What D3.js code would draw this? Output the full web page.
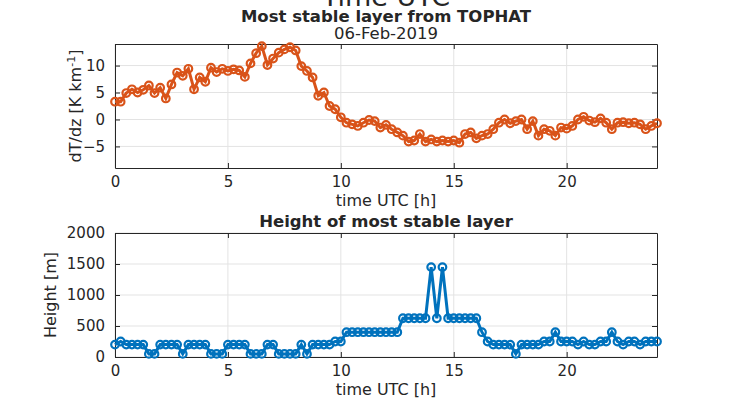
<!DOCTYPE html>
<html lang="en">
<head>
  <meta charset="utf-8" />
  <title>Most stable layer from TOPHAT</title>
  <script src="https://cdn.jsdelivr.net/npm/d3@7/dist/d3.min.js"></script>
  <style>
    body { margin: 0; background: #fff; }
    text { font-family: "DejaVu Sans", sans-serif; fill: #262626; }
  </style>
</head>
<body>
  <script>
    // time in hours, 15 min steps
    var hours = [0,0.25,0.5,0.75,1,1.25,1.5,1.75,2,2.25,2.5,2.75,3,3.25,3.5,3.75,4,4.25,4.5,4.75,
      5,5.25,5.5,5.75,6,6.25,6.5,6.75,7,7.25,7.5,7.75,8,8.25,8.5,8.75,9,9.25,9.5,9.75,
      10,10.25,10.5,10.75,11,11.25,11.5,11.75,12,12.25,12.5,12.75,13,13.25,13.5,13.75,14,14.25,14.5,14.75,
      15,15.25,15.5,15.75,16,16.25,16.5,16.75,17,17.25,17.5,17.75,18,18.25,18.5,18.75,19,19.25,19.5,19.75,
      20,20.25,20.5,20.75,21,21.25,21.5,21.75,22,22.25,22.5,22.75,23,23.25,23.5,23.75,24];

    var dTdz = [3.3,3.3,4.9,5.6,5.0,5.5,6.3,4.9,5.9,3.9,6.5,8.7,8.1,9.4,5.6,7.8,7.0,9.6,8.8,9.4,
      9.0,9.3,9.1,7.9,10.4,12.3,13.6,10.1,11.3,12.4,13.0,13.4,12.8,9.9,9.0,7.8,4.4,5.0,2.5,1.9,
      0.4,-0.6,-0.9,-1.2,-0.6,-0.1,-0.3,-1.5,-1.0,-1.8,-2.4,-3.0,-4.1,-3.9,-2.7,-4.1,-3.7,-4.1,-3.9,-4.1,
      -3.9,-4.3,-2.7,-2.4,-3.5,-3.0,-2.7,-1.8,-0.6,0.0,-0.7,-0.3,0.0,-1.8,-0.3,-3.0,-1.8,-2.1,-3.0,-1.5,
      -1.7,-1.2,0.0,0.5,-0.2,-0.5,0.2,-0.6,-1.8,-0.6,-0.5,-0.7,-0.6,-0.9,-1.8,-1.2,-0.7];

    var heightM = [200,250,200,200,200,200,50,50,200,200,200,200,50,200,200,200,200,50,50,50,
      200,200,200,200,50,50,50,200,200,50,50,50,50,200,50,200,200,200,200,250,
      250,400,400,400,400,400,400,400,400,400,400,625,625,625,625,625,1450,625,1450,625,
      625,625,625,625,625,400,250,200,200,200,200,50,200,200,200,200,250,250,400,250,
      250,250,200,250,200,200,250,250,400,250,200,250,250,200,250,250,250];

    var xTicks = [0, 5, 10, 15, 20];
    var topYTicks = [-5, 0, 5, 10];
    var botYTicks = [0, 500, 1000, 1500, 2000];

    var W = 730, H = 405;
    var svg = d3.select("body").append("svg").attr("width", W).attr("height", H);

    var x = d3.scaleLinear().domain([0, 24]).range([115, 657]);

    // super title, mostly outside the figure
    svg.append("text").attr("x", 386).attr("y", 6)
      .attr("text-anchor", "middle").style("font-size", "27px").text("Time UTC");

    function panel(top, bottom, yDomain, yTicks, vals, color, ylabX, ylab, titleLines) {
      var y = d3.scaleLinear().domain(yDomain).range([bottom, top]);
      var g = svg.append("g");

      // grid
      g.selectAll(".gx").data(xTicks).enter().append("line")
        .attr("x1", d => x(d)).attr("x2", d => x(d)).attr("y1", top).attr("y2", bottom)
        .attr("stroke", "#e3e3e3").attr("stroke-width", 1);
      g.selectAll(".gy").data(yTicks).enter().append("line")
        .attr("x1", x(0)).attr("x2", x(24)).attr("y1", d => y(d)).attr("y2", d => y(d))
        .attr("stroke", "#e3e3e3").attr("stroke-width", 1);

      // axes with inward ticks
      g.append("g").attr("transform", "translate(0," + bottom + ")")
        .call(d3.axisBottom(x).tickValues(xTicks).tickSizeInner(-5).tickSizeOuter(0).tickPadding(8));
      g.append("g").attr("transform", "translate(" + x(0) + ",0)")
        .call(d3.axisLeft(y).tickValues(yTicks).tickFormat(d3.format("d"))
          .tickSizeInner(-5).tickSizeOuter(0).tickPadding(10));
      g.append("g").attr("transform", "translate(0," + top + ")")
        .call(d3.axisTop(x).tickValues(xTicks).tickSizeInner(-5).tickSizeOuter(0).tickFormat(""));
      g.append("g").attr("transform", "translate(" + x(24) + ",0)")
        .call(d3.axisRight(y).tickValues(yTicks).tickSizeInner(-5).tickSizeOuter(0).tickFormat(""));
      g.selectAll(".domain, .tick line").attr("stroke", "#262626");
      g.selectAll(".tick text").style("font-size", "15px").attr("fill", "#262626")
        .style("font-family", "DejaVu Sans, sans-serif");

      // data line and markers
      var pts = hours.map((h, i) => [h, vals[i]]);
      g.append("path").datum(pts)
        .attr("d", d3.line().x(d => x(d[0])).y(d => y(d[1])))
        .attr("fill", "none").attr("stroke", color).attr("stroke-width", 3);
      g.selectAll(".m").data(pts).enter().append("circle")
        .attr("cx", d => x(d[0])).attr("cy", d => y(d[1])).attr("r", 3.8)
        .attr("fill", "none").attr("stroke", color).attr("stroke-width", 2.2);

      // labels
      g.append("text").attr("x", x(12)).attr("y", bottom + 38)
        .attr("text-anchor", "middle").style("font-size", "16px").text("time UTC [h]");
      var yl = g.append("text")
        .attr("transform", "translate(" + ylabX + "," + ((top + bottom) / 2) + ") rotate(-90)")
        .attr("text-anchor", "middle").style("font-size", "16px");
      ylab(yl);

      titleLines.forEach(function(t) {
        g.append("text").attr("x", x(12)).attr("y", t.y)
          .attr("text-anchor", "middle").style("font-size", t.size)
          .style("font-weight", t.bold ? "bold" : "normal").text(t.text);
      });
    }

    panel(44, 168, [-9, 14], topYTicks, dTdz, "#D95319", 81, function(t) {
      t.append("tspan").text("dT/dz [K km");
      t.append("tspan").attr("dy", -6).style("font-size", "11px").text("-1");
      t.append("tspan").attr("dy", 6).text("]");
    }, [{ text: "Most stable layer from TOPHAT", y: 22, bold: true, size: "16.5px" },
        { text: "06-Feb-2019", y: 39, bold: false, size: "16.5px" }]);

    panel(233, 357, [0, 2000], botYTicks, heightM, "#0072BD", 56, function(t) {
      t.text("Height [m]");
    }, [{ text: "Height of most stable layer", y: 227, bold: true, size: "16.5px" }]);
  </script>
</body>
</html>
